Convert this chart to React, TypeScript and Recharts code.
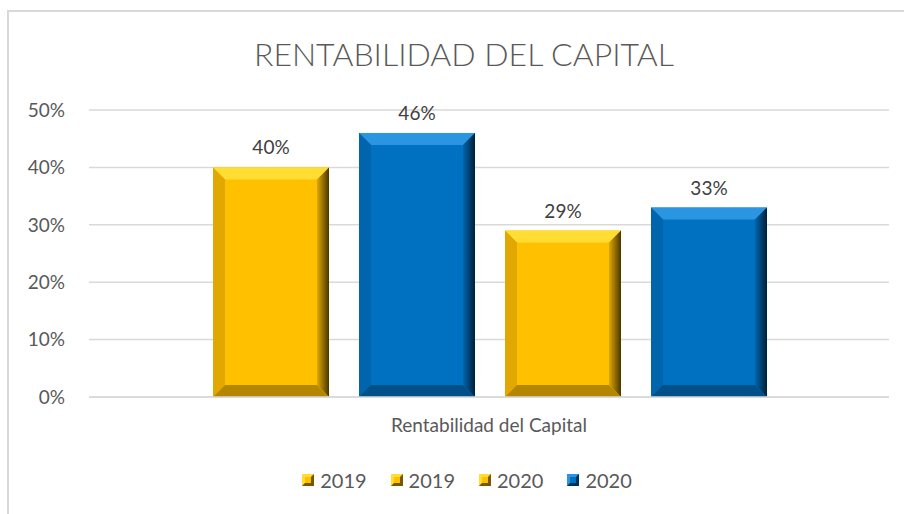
import React from "react";
import { BarChart, Bar, XAxis, YAxis, CartesianGrid, LabelList } from "recharts";

const categories = ["Rentabilidad del Capital"];
const seriesNames = ["2019", "2019", "2020", "2020"];
const serie1 = [0.4];
const serie2 = [0.46];
const serie3 = [0.29];
const serie4 = [0.33];
const yTicks = [0, 0.1, 0.2, 0.3, 0.4, 0.5];

const YELLOW = "#FFC000";
const BLUE = "#0070C0";
const barColors = [YELLOW, BLUE, YELLOW, BLUE];
const legendColors = [YELLOW, YELLOW, YELLOW, BLUE];

const shades: Record<string, { light: string; side: string; dark: string; bottom: string }> = {
  [YELLOW]: { light: "#FFDD33", side: "#E0A800", dark: "#4A3600", bottom: "#B58600" },
  [BLUE]: { light: "#2A96E2", side: "#0065AD", dark: "#001F38", bottom: "#00508A" },
};

const seriesData = [serie1, serie2, serie3, serie4];
const data = categories.map((name, i) => {
  const row: Record<string, string | number> = { name };
  seriesData.forEach((s, j) => (row["s" + j] = s[i]));
  return row;
});

const FONT = "Lato, 'Open Sans', sans-serif";
const pct = (v: number) => `${Math.round(v * 100)}%`;

function BevelBar(props: any) {
  const { x, y, width, height, fill } = props;
  if (!height || height <= 0) return null;
  const c = shades[fill];
  const b = 12;
  const gid = `rg-${fill.slice(1)}`;
  const x2 = x + width;
  const y2 = y + height;
  return (
    <g>
      <defs>
        <linearGradient id={gid} x1="0" y1="0" x2="1" y2="0">
          <stop offset="0%" stopColor={c.side} />
          <stop offset="100%" stopColor={c.dark} />
        </linearGradient>
      </defs>
      <rect x={x} y={y} width={width} height={height} fill={fill} />
      <polygon points={`${x},${y} ${x2},${y} ${x2 - b},${y + b} ${x + b},${y + b}`} fill={c.light} />
      <polygon points={`${x},${y} ${x + b},${y + b} ${x + b},${y2 - b} ${x},${y2}`} fill={c.side} />
      <polygon points={`${x2},${y} ${x2},${y2} ${x2 - b},${y2 - b} ${x2 - b},${y + b}`} fill={`url(#${gid})`} />
      <polygon points={`${x},${y2} ${x + b},${y2 - b} ${x2 - b},${y2 - b} ${x2},${y2}`} fill={c.bottom} />
    </g>
  );
}

function LegendRow() {
  return (
    <div
      style={{
        position: "absolute",
        left: 0,
        top: 468,
        width: 904,
        display: "flex",
        justifyContent: "center",
        fontFamily: FONT,
        fontSize: 20,
        color: "#595959",
        paddingLeft: 54,
        boxSizing: "border-box",
      }}
    >
      {seriesNames.map((n, i) => {
        const c = shades[legendColors[i]];
        return (
          <div key={i} style={{ display: "flex", alignItems: "center", marginRight: 24 }}>
            <svg width={12} height={12} style={{ marginRight: 6 }}>
              <rect x={0} y={0} width={12} height={12} fill={legendColors[i]} />
              <polygon points="0,0 12,0 0,12" fill={c.light} />
              <polygon points="12,0 12,12 0,12" fill={c.dark} opacity={0.75} />
              <rect x={3} y={3} width={6} height={6} fill={legendColors[i]} />
            </svg>
            <span>{n}</span>
          </div>
        );
      })}
    </div>
  );
}

export default function App() {
  return (
    <div style={{ position: "absolute", left: 0, top: 0, width: 904, height: 514, background: "#fff", overflow: "hidden" }}>
      <div
        style={{
          position: "absolute",
          left: 7,
          top: 10,
          width: 904,
          height: 520,
          borderLeft: "2px solid #d9d9d9",
          borderTop: "2px solid #d9d9d9",
        }}
      />
      <div
        style={{
          position: "absolute",
          left: 0,
          top: 34,
          width: 904,
          paddingLeft: 24,
          boxSizing: "border-box",
          textAlign: "center",
          fontFamily: FONT,
          fontWeight: 300,
          fontSize: 32,
          color: "#595959",
        }}
      >
        RENTABILIDAD DEL CAPITAL
      </div>
      <div style={{ position: "absolute", left: 0, top: 0 }}>
        <BarChart
          width={904}
          height={514}
          data={data}
          margin={{ top: 110, right: 15, bottom: 87, left: 0 }}
          barCategoryGap={124}
          barGap={30}
        >
          <CartesianGrid vertical={false} stroke="#d9d9d9" strokeWidth={1.5} />
          <XAxis
            dataKey="name"
            height={30}
            axisLine={{ stroke: "#d9d9d9", strokeWidth: 1.5 }}
            tickLine={false}
            tickMargin={16}
            tick={{ fill: "#595959", fontSize: 19, fontFamily: FONT }}
          />
          <YAxis
            width={89}
            domain={[0, 0.5]}
            ticks={yTicks}
            tickFormatter={pct}
            axisLine={false}
            tickLine={false}
            tickMargin={18}
            tick={{ fill: "#595959", fontSize: 19, fontFamily: FONT }}
          />
          {seriesData.map((_, j) => (
            <Bar
              key={j}
              dataKey={"s" + j}
              name={seriesNames[j]}
              fill={barColors[j]}
              shape={<BevelBar />}
              isAnimationActive={false}
            >
              <LabelList
                dataKey={"s" + j}
                position="top"
                offset={13}
                formatter={(v: any) => pct(Number(v))}
                style={{ fill: "#404040", fontSize: 19, fontFamily: FONT }}
              />
            </Bar>
          ))}
        </BarChart>
      </div>
      <LegendRow />
    </div>
  );
}
